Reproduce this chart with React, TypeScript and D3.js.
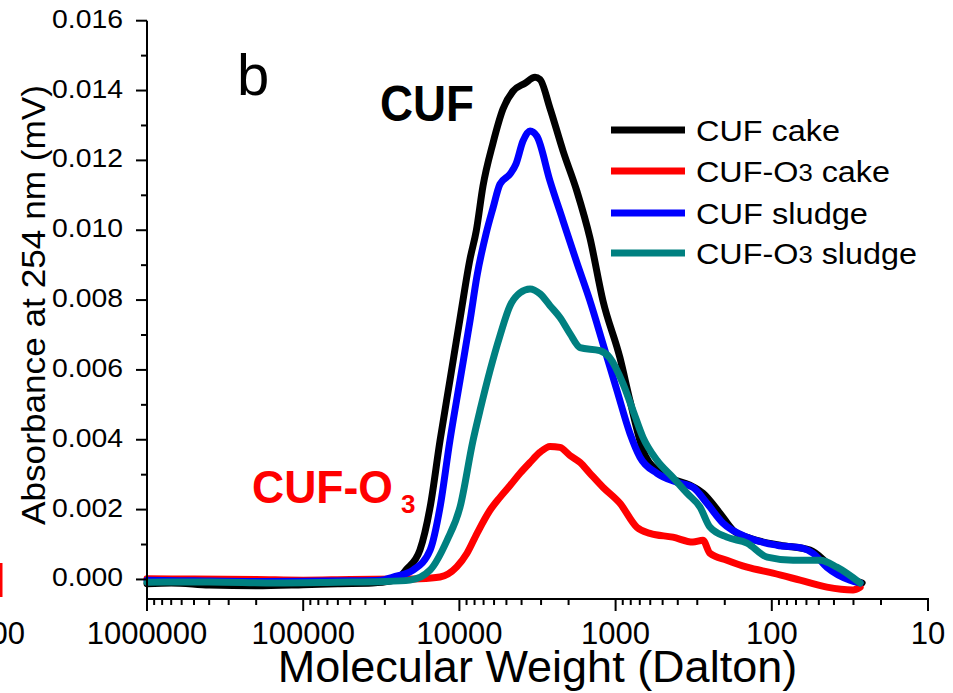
import React from "react";
import * as d3 from "d3";

// ---- Data (Molecular weight in Dalton, absorbance at 254 nm) ----
const cufCake: [number, number][] = [
  [1000000, -0.00012], [700000, -0.0001], [400000, -0.00016], [200000, -0.00018],
  [100000, -0.00015], [60000, -0.00012], [36000, -0.0001], [27800, -0.00005],
  [24000, 0.00008], [22000, 0.00027], [17900, 0.00084], [15400, 0.00207],
  [13300, 0.00398], [11500, 0.0057], [9910, 0.00747], [8550, 0.00918],
  [7800, 0.00998], [7060, 0.01127], [6100, 0.01249], [5260, 0.01347],
  [4540, 0.01398], [3800, 0.01421], [3280, 0.01438], [3050, 0.01432],
  [2630, 0.01349], [2170, 0.01227], [1770, 0.01112], [1460, 0.00978],
  [1205, 0.00798], [938, 0.00635], [809, 0.00512], [668, 0.0037],
  [543, 0.00312], [449, 0.0029], [334, 0.0027], [276, 0.00247],
  [215, 0.0019], [177, 0.00141], [138, 0.00118], [88.5, 0.00098],
  [56.9, 0.00084], [42.4, 0.00041], [31.6, 0.00004], [26.4, -0.0001],
];

const cufO3Cake: [number, number][] = [
  [1000000, 0.00002], [500000, 0.00001], [200000, 0.0], [100000, -0.00002],
  [50000, 0.0], [24000, 0.00001], [17900, 0.00002], [13300, 0.00007],
  [10400, 0.00036], [8940, 0.00075], [7710, 0.00132], [6370, 0.00198],
  [5500, 0.00235], [4740, 0.00269], [4090, 0.00304], [3530, 0.00335],
  [3050, 0.00364], [2630, 0.00381], [2270, 0.00378], [1960, 0.00355],
  [1690, 0.00335], [1460, 0.00304], [1205, 0.00264], [938, 0.00218],
  [730, 0.00149], [603, 0.00132], [430, 0.00121], [320, 0.00107],
  [276, 0.00112], [249, 0.00075], [194, 0.00055], [144, 0.00035],
  [98.2, 0.00018], [65.9, -0.00002], [44.4, -0.00022], [30.2, -0.0003],
  [27.2, -0.00022],
];

const cufSludge: [number, number][] = [
  [1000000, -0.00002], [500000, -0.00004], [200000, -0.00006], [100000, -0.00005],
  [50000, -0.00004], [32000, -0.00002], [26600, 0.00007], [19800, 0.00027],
  [15400, 0.00084], [13300, 0.00207], [11500, 0.00398], [9910, 0.0057],
  [8550, 0.00741], [7710, 0.0087], [6760, 0.00989], [6100, 0.01063],
  [5500, 0.01132], [4740, 0.01161], [4340, 0.0119], [3920, 0.01255],
  [3530, 0.01284], [3190, 0.01269], [2630, 0.01141], [2170, 0.01027],
  [1770, 0.00907], [1460, 0.00798], [1205, 0.00675], [980, 0.00541],
  [809, 0.00418], [698, 0.0035], [543, 0.00304], [404, 0.00278],
  [320, 0.00264], [260, 0.00218], [205, 0.00161], [144, 0.00121],
  [92.7, 0.00098], [63.1, 0.00089], [54.5, 0.00075], [44.4, 0.00035],
  [31.6, -0.00002], [27.2, -0.0001],
];

const cufO3Sludge: [number, number][] = [
  [1000000, -0.00008], [400000, -0.00007], [150000, -0.0001], [60000, -0.00008],
  [30000, -0.00006], [20700, -0.00002], [15400, 0.00027], [12000, 0.00112],
  [9910, 0.00207], [8180, 0.00398], [7380, 0.00484], [6370, 0.00598],
  [5500, 0.00698], [4740, 0.00784], [4090, 0.00821], [3530, 0.00832],
  [3050, 0.00818], [2630, 0.00784], [2270, 0.0075], [1960, 0.00704],
  [1690, 0.00664], [1260, 0.00655], [1090, 0.00635], [897, 0.00561],
  [774, 0.00484], [668, 0.00407], [543, 0.00341], [430, 0.00292],
  [349, 0.00247], [288, 0.00207], [249, 0.0015], [194, 0.00121],
  [144, 0.00104], [107, 0.00064], [73.1, 0.00055], [49.1, 0.00055],
  [38.3, 0.00035], [27.2, -0.0001],
];

const seriesNames = ["CUF cake", "CUF-O3 cake", "CUF sludge", "CUF-O3 sludge"];
const seriesColors = ["#000000", "#ff0000", "#0000ff", "#008080"];
const seriesData = [cufCake, cufO3Cake, cufSludge, cufO3Sludge];

const xMajorTicks = [1000000, 100000, 10000, 1000, 100, 10];
const xTickLabels = ["1000000", "100000", "10000", "1000", "100", "10"];
const yMajorTicks = [0, 0.002, 0.004, 0.006, 0.008, 0.01, 0.012, 0.014, 0.016];
const yMinorTicks = [0.001, 0.003, 0.005, 0.007, 0.009, 0.011, 0.013, 0.015];

const FONT = "'Liberation Sans', Arial, Helvetica, sans-serif";

export default function App() {
  const W = 953;
  const H = 693;
  const x = d3.scaleLog().domain([1000000, 10]).range([147, 928]);
  const y = d3.scaleLinear().domain([-0.00056, 0.016]).range([599, 20.7]);

  const xMinor: number[] = [];
  [10, 100, 1000, 10000, 100000].forEach((d) => {
    for (let k = 2; k <= 9; k++) xMinor.push(d * k);
  });

  const line = d3
    .line<[number, number]>()
    .x((d) => x(d[0]))
    .y((d) => y(d[1]))
    .curve(d3.curveMonotoneX);

  const fmt = d3.format(".3f");
  const legendY = [130, 171, 213, 253];
  const legendW = [144, 194, 172, 221];

  return (
    <svg
      width={W}
      height={H}
      style={{ position: "absolute", left: 0, top: 0, background: "#fff" }}
      fontFamily={FONT}
    >
      <rect x={0} y={0} width={W} height={H} fill="#fff" />
      {/* fragment of neighbouring panel */}
      <line x1={1} x2={1} y1={563} y2={597} stroke="#ff0000" strokeWidth={3} />
      <text x={25} y={644} fontSize={31} textAnchor="end">100</text>

      {/* series */}
      {seriesData.map((data, i) => (
        <path
          key={i}
          d={line(data) || ""}
          fill="none"
          stroke={seriesColors[i]}
          strokeWidth={7}
          strokeLinejoin="round"
          strokeLinecap="round"
        />
      ))}

      {/* axes */}
      <line x1={147} x2={147} y1={y(0.016)} y2={600} stroke="#000" strokeWidth={2} />
      <line x1={146} x2={929} y1={599} y2={599} stroke="#000" strokeWidth={2} />
      {yMajorTicks.map((t) => (
        <g key={"ym" + t}>
          <line x1={136} x2={147} y1={y(t)} y2={y(t)} stroke="#000" strokeWidth={2} />
          <text
            x={123}
            y={y(t) + 7}
            fontSize={26.5}
            textAnchor="end"
            textLength={71}
            lengthAdjust="spacingAndGlyphs"
          >
            {fmt(t)}
          </text>
        </g>
      ))}
      {yMinorTicks.map((t) => (
        <line key={"yn" + t} x1={141} x2={147} y1={y(t)} y2={y(t)} stroke="#000" strokeWidth={2} />
      ))}
      {xMajorTicks.map((t, i) => (
        <g key={"xm" + t}>
          <line x1={x(t)} x2={x(t)} y1={599} y2={611} stroke="#000" strokeWidth={2} />
          <text x={x(t)} y={644} fontSize={31} textAnchor="middle">
            {xTickLabels[i]}
          </text>
        </g>
      ))}
      {xMinor.map((t) => (
        <line key={"xn" + t} x1={x(t)} x2={x(t)} y1={599} y2={605} stroke="#000" strokeWidth={2} />
      ))}

      {/* axis titles */}
      <text x={537.5} y={682} fontSize={45} textAnchor="middle">
        Molecular Weight (Dalton)
      </text>
      <text
        transform="translate(45,305) rotate(-90)"
        fontSize={32.5}
        textAnchor="middle"
        textLength={440}
        lengthAdjust="spacingAndGlyphs"
      >
        Absorbance at 254 nm (mV)
      </text>

      {/* annotations */}
      <text x={237} y={95} fontSize={58}>b</text>
      <text x={380} y={121} fontSize={50} fontWeight="bold" textLength={94} lengthAdjust="spacingAndGlyphs">
        CUF
      </text>
      <text x={252} y={503} fontSize={47} fontWeight="bold" fill="#ff0000" textLength={141} lengthAdjust="spacingAndGlyphs">
        CUF-O
      </text>
      <text x={401} y={513} fontSize={26} fontWeight="bold" fill="#ff0000">3</text>

      {/* legend */}
      {seriesNames.map((name, i) => {
        const ly = legendY[i];
        const hasSub = name.includes("O3");
        const parts = name.split("O3");
        return (
          <g key={"lg" + i}>
            <line x1={611} x2={685} y1={ly} y2={ly} stroke={seriesColors[i]} strokeWidth={7} />
            <text
              x={696}
              y={ly + 11}
              fontSize={29}
              textLength={legendW[i]}
              lengthAdjust="spacingAndGlyphs"
            >
              {hasSub ? (
                <>
                  <tspan>{parts[0] + "O"}</tspan>
                  <tspan fontSize={23} dy={-1}>3</tspan>
                  <tspan dy={1}>{parts[1]}</tspan>
                </>
              ) : (
                name
              )}
            </text>
          </g>
        );
      })}
    </svg>
  );
}
